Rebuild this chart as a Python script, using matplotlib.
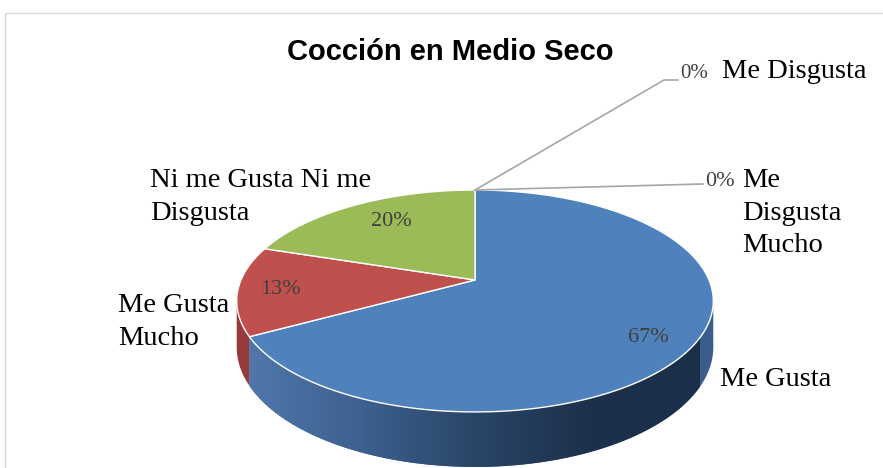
import numpy as np
import matplotlib.pyplot as plt
from matplotlib.patches import Polygon, Rectangle
from matplotlib.colors import LinearSegmentedColormap

# data (clockwise from 12 o'clock, as in the original Excel chart)
categorias = ['Me Gusta', 'Me Gusta Mucho', 'Ni me Gusta Ni me Disgusta',
              'Me Disgusta', 'Me Disgusta Mucho']
porcentajes = [67, 13, 20, 0, 0]
colores = ['#4F81BD', '#C0504D', '#9BBB59', '#8064A2', '#4BACC6']
lados = ['#3a5d8c', '#963b39', '#718a40', '#5d4977', '#367f93']

titulo = 'Cocción en Medio Seco'

# pie geometry (pixel space, y down)
cx, cy = 475, 280      # apex of the pie
s, sk = 234, 107       # horizontal / vertical radius scale
c = 0.189              # perspective tilt
drop = 44.6            # thickness of the pie


def proj(theta_deg, h=0.0):
    t = np.radians(theta_deg)
    X, Y = np.cos(t), np.sin(t)
    w = 1 + c * Y
    return cx + s * X / w, cy - sk * Y / w + h / w


fig = plt.figure(figsize=(8.83, 4.68), dpi=100)
ax = fig.add_axes([0, 0, 1, 1])
ax.set_xlim(0, 883)
ax.set_ylim(468, 0)
ax.axis('off')

ax.add_patch(Rectangle((5, 13), 900, 500, fill=False, edgecolor='#d9d9d9',
                       lw=1, clip_on=True))

# angles of each slice
total = sum(porcentajes)
frac = np.array(porcentajes) / total
ends = 90 - 360 * np.cumsum(frac)
starts = np.concatenate([[90], ends[:-1]])

# visible side range
lim = np.degrees(np.arcsin(c))
vis_lo, vis_hi = -180 + lim, -lim

grad_cmap = LinearSegmentedColormap.from_list(
    'lado', ['#5078ac', '#3d6190', '#2a4668', '#1d314d', '#1c2f4a'])

for i in range(len(porcentajes)):
    if porcentajes[i] == 0:
        continue
    a1, a0 = starts[i], ends[i]   # a1 > a0
    for shift in (0, -360, 360):
        lo = max(a0 + shift, vis_lo)
        hi = min(a1 + shift, vis_hi)
        if hi <= lo:
            continue
        t = np.linspace(lo, hi, 200)
        xt, yt = proj(t)
        xb, yb = proj(t[::-1], drop)
        pts = np.column_stack([np.concatenate([xt, xb]),
                               np.concatenate([yt, yb])])
        poly = Polygon(pts, closed=True, facecolor=lados[i],
                       edgecolor='none', zorder=1)
        ax.add_patch(poly)
        if i == 0:
            grad = np.linspace(0, 1, 256).reshape(1, -1)
            im = ax.imshow(grad, extent=(245, 700, 470, 270), aspect='auto',
                           cmap=grad_cmap, zorder=2, interpolation='bilinear')
            im.set_clip_path(poly)

# top face
for i in range(len(porcentajes)):
    if porcentajes[i] == 0:
        continue
    t = np.linspace(starts[i], ends[i], 300)
    xt, yt = proj(t)
    pts = np.column_stack([np.concatenate([[cx], xt]),
                           np.concatenate([[cy], yt])])
    ax.add_patch(Polygon(pts, closed=True, facecolor=colores[i],
                         edgecolor='white', lw=1, zorder=3))

# leader lines for the 0% slices
tx, ty = proj(90)
ax.plot([tx, 664, 678], [ty, 80, 80], color='#a6a6a6', lw=1.2, zorder=4)
ax.plot([tx, 703], [ty, 184], color='#a6a6a6', lw=1.2, zorder=4)

serif = 'Liberation Serif'
pct = '#404040'
ax.text(450, 52, titulo, ha='center', va='center', fontsize=21,
        fontweight='bold', family='Liberation Sans', color='black')

ax.text(391, 222, f'{porcentajes[2]}%', ha='center', va='center',
        fontsize=16, family=serif, color=pct, zorder=5)
ax.text(280, 290, f'{porcentajes[1]}%', ha='center', va='center',
        fontsize=16, family=serif, color=pct, zorder=5)
ax.text(648, 338, f'{porcentajes[0]}%', ha='center', va='center',
        fontsize=16, family=serif, color=pct, zorder=5)
ax.text(680, 74, f'{porcentajes[3]}%', ha='left', va='center',
        fontsize=15, family=serif, color=pct, zorder=5)
ax.text(705, 181, f'{porcentajes[4]}%', ha='left', va='center',
        fontsize=16, family=serif, color=pct, zorder=5)

ax.text(722, 72, 'Me Disgusta', ha='left', va='center', fontsize=20.5,
        family=serif)
ax.text(742, 213, 'Me\nDisgusta\nMucho', ha='left', va='center',
        fontsize=20.5, family=serif, linespacing=1.4)
ax.text(150, 197, 'Ni me Gusta Ni me\nDisgusta', ha='left', va='center',
        fontsize=20.5, family=serif, linespacing=1.4)
ax.text(118, 322, 'Me Gusta\nMucho', ha='left', va='center',
        fontsize=20.5, family=serif, linespacing=1.4)
ax.text(720, 380, 'Me Gusta', ha='left', va='center', fontsize=20.5,
        family=serif)

fig.savefig('out.png', dpi=100)
